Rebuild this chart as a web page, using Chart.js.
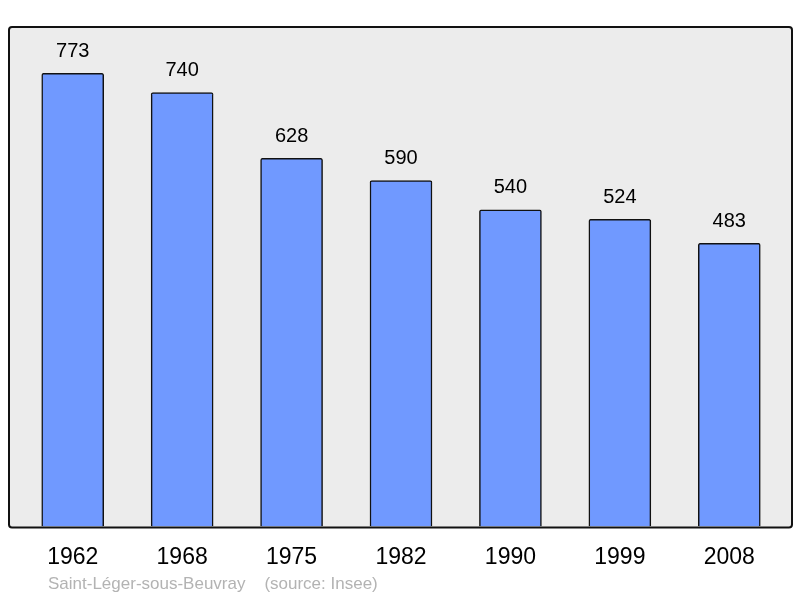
<!DOCTYPE html>
<html>
<head>
<meta charset="utf-8">
<script src="https://cdn.jsdelivr.net/npm/chart.js@4/dist/chart.umd.min.js"></script>
<style>
  html, body { margin: 0; padding: 0; background: #fff; }
  #wrap { width: 800px; height: 598px; }
</style>
</head>
<body>
<div id="wrap"><canvas id="popChart" width="800" height="598"></canvas></div>
<script>
const years = ['1962', '1968', '1975', '1982', '1990', '1999', '2008'];
const population = [773, 740, 628, 590, 540, 524, 483];
const sourceNote = 'Saint-Léger-sous-Beuvray    (source: Insee)';

// grey frame behind the bars, value labels above them, source line below
const framePlugin = {
    id: 'frame',
    beforeDraw(chart) {
        const { ctx, chartArea: a } = chart;
        const x = a.left - 9, y = a.top, w = a.right - a.left + 17, h = a.bottom - a.top + 1;
        ctx.save();
        ctx.beginPath();
        ctx.roundRect(x, y, w, h, 3);
        ctx.fillStyle = '#ececec';
        ctx.fill();
        ctx.restore();
    },
    afterDraw(chart) {
        const { ctx, chartArea: a } = chart;
        const x = a.left - 9, y = a.top, w = a.right - a.left + 17, h = a.bottom - a.top + 1;
        ctx.save();
        ctx.beginPath();
        ctx.roundRect(x, y, w, h, 3);
        ctx.lineWidth = 2;
        ctx.strokeStyle = '#111';
        ctx.stroke();

        ctx.font = '20px "Liberation Sans", Arial, sans-serif';
        ctx.fillStyle = '#000';
        ctx.textAlign = 'center';
        ctx.textBaseline = 'middle';
        chart.getDatasetMeta(0).data.forEach((bar, i) => {
            ctx.fillText(population[i], bar.x, bar.y - 22);
        });

        ctx.font = '17px "Liberation Sans", Arial, sans-serif';
        ctx.fillStyle = '#b3b3b3';
        ctx.textAlign = 'left';
        ctx.fillText(sourceNote, 48, 584);
        ctx.restore();
    }
};

new Chart(document.getElementById('popChart').getContext('2d'), {
    type: 'bar',
    data: {
        labels: years,
        datasets: [{
            data: population,
            backgroundColor: '#7099ff',
            borderColor: '#111',
            borderWidth: 1.5,
            borderRadius: 2,
            borderSkipped: 'bottom',
            barThickness: 62
        }]
    },
    options: {
        responsive: false,
        animation: false,
        layout: { padding: { left: 18, right: 16, top: 27, bottom: 18 } },
        scales: {
            x: {
                grid: { display: false },
                border: { display: false },
                ticks: { color: '#000', padding: 9, font: { size: 23, family: '"Liberation Sans", Arial, sans-serif' } }
            },
            y: { display: false, min: 0, max: 852 }
        },
        plugins: { legend: { display: false }, tooltip: { enabled: false } }
    },
    plugins: [framePlugin]
});
</script>
</body>
</html>
